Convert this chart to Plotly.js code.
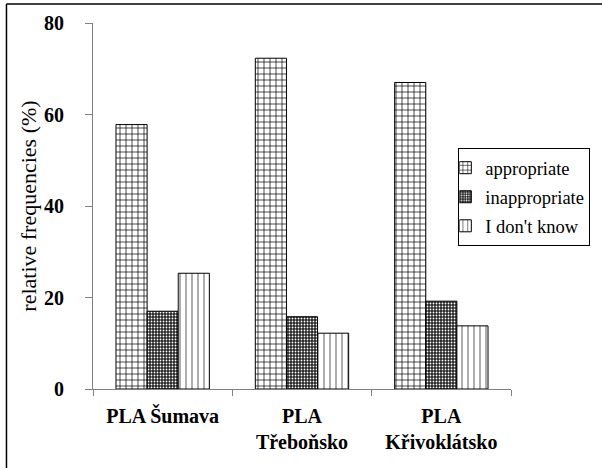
<!DOCTYPE html>
<html>
<head>
<meta charset="utf-8">
<script src="https://cdn.plot.ly/plotly-3.0.1.min.js"></script>
<style>html,body{margin:0;padding:0;background:#fff;}#chart{width:602px;height:468px;}</style>
</head>
<body>
<div id="chart"></div>
<script>
const categories = ["PLA Šumava", "PLA<br>Třeboňsko", "PLA<br>Křivoklátsko"];
const seriesNames = ["appropriate", "inappropriate", "I don't know"];
const appropriate = [57.8, 72.3, 67.0];
const inappropriate = [17.0, 15.8, 19.2];
const dontKnow = [25.3, 12.2, 13.8];
const yTicks = [0, 20, 40, 60, 80];

const serif = "Liberation Serif";

const traces = [
  {
    type: "bar", name: seriesNames[0], legendgroup: "a", x: categories, y: appropriate,
    marker: {
      color: "#ffffff",
      line: {color: "#000000", width: 1},
      pattern: {shape: "+", fgcolor: "#000000", bgcolor: "#ffffff", size: 6, solidity: 0.22}
    }
  },
  {
    type: "bar", name: seriesNames[1], legendgroup: "b", x: categories, y: inappropriate,
    marker: {
      color: "#222222",
      line: {color: "#000000", width: 1},
      pattern: {shape: ".", fgcolor: "#ffffff", bgcolor: "#222222", size: 3, solidity: 0.3}
    }
  },
  {
    type: "bar", name: seriesNames[2], legendgroup: "c", x: categories, y: dontKnow,
    marker: {
      color: "#ffffff",
      line: {color: "#000000", width: 1},
      pattern: {shape: "|", fgcolor: "#777777", bgcolor: "#ffffff", size: 6, solidity: 0.2}
    }
  }
];

const layout = {
  width: 602, height: 468,
  margin: {l: 93, r: 89, t: 23, b: 79, pad: 0},
  paper_bgcolor: "#ffffff", plot_bgcolor: "#ffffff",
  font: {family: serif, color: "#000000", size: 18},
  barmode: "group", bargap: 0.33, bargroupgap: 0,
  showlegend: true,
  legend: {
    x: 0.874, y: 0.658, xanchor: "left", yanchor: "top",
    bgcolor: "#ffffff", bordercolor: "#000000", borderwidth: 1,
    font: {family: serif, size: 18.5, color: "#000000"},
    itemwidth: 30, indentation: -14,
    traceorder: "grouped", tracegroupgap: 2
  },
  xaxis: {
    type: "category",
    showline: true, linecolor: "#808080", linewidth: 1,
    ticks: "outside", tickson: "boundaries", ticklen: 6, tickcolor: "#808080",
    tickfont: {family: serif, size: 20, color: "#000000", weight: "bold"},
    ticklabelstandoff: 9,
    showgrid: false, zeroline: false, fixedrange: true
  },
  yaxis: {
    range: [0, 80], tickvals: yTicks, ticktext: yTicks.map(String),
    showline: true, linecolor: "#808080", linewidth: 1,
    ticks: "outside", ticklen: 7, tickcolor: "#808080",
    tickfont: {family: serif, size: 20, color: "#000000", weight: "bold"},
    ticklabelstandoff: 17,
    showgrid: false, zeroline: false, fixedrange: true,
    title: {text: "relative frequencies (%)", font: {family: serif, size: 22, color: "#000000"}, standoff: 1}
  },
  shapes: [
    {type: "line", xref: "paper", yref: "paper", x0: -0.207, x1: 1.25, y0: 1.052, y1: 1.052, line: {color: "#000000", width: 1.5}},
    {type: "line", xref: "paper", yref: "paper", x0: -0.207, x1: -0.207, y0: 1.052, y1: -0.25, line: {color: "#000000", width: 1.5}}
  ]
};

Plotly.newPlot("chart", traces, layout, {displayModeBar: false, staticPlot: true});
</script>
</body>
</html>
